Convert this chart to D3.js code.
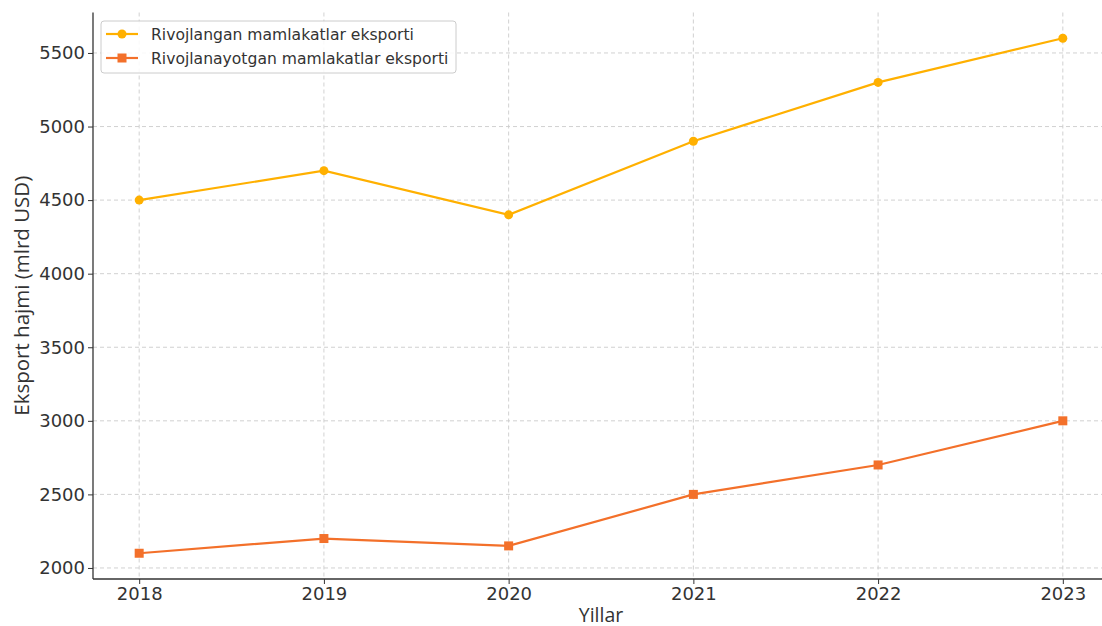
<!DOCTYPE html>
<html><head><meta charset="utf-8">
<script src="https://cdn.jsdelivr.net/npm/d3@7"></script>
<style>body{margin:0;background:#fff}svg{display:block}</style>
</head><body>
<svg id="c" width="1102" height="626"></svg>
<script>
const years = [2018, 2019, 2020, 2021, 2022, 2023];
const developed = [4500, 4700, 4400, 4900, 5300, 5600];
const developing = [2100, 2200, 2150, 2500, 2700, 3000];
const yTicks = [2000, 2500, 3000, 3500, 4000, 4500, 5000, 5500];
const seriesNames = ["Rivojlangan mamlakatlar eksporti", "Rivojlanayotgan mamlakatlar eksporti"];
const colors = ["#FFB000", "#F3702A"];

(function () {
const svg = d3.select("#c");
const pL = 93, pR = 1109, pT = 12.5, pB = 579;
const x = d3.scaleLinear().domain([2017.75, 2023.25]).range([pL, pR]);
const y = d3.scaleLinear().domain([1925, 5775]).range([pB, pT]);

// grid
const g = svg.append("g");
g.selectAll(".gx").data(years).enter().append("line")
  .attr("x1", d => x(d)).attr("x2", d => x(d)).attr("y1", pT).attr("y2", pB)
  .attr("stroke", "#cccccc").attr("stroke-width", 0.9).attr("stroke-dasharray", "4,3");
g.selectAll(".gy").data(yTicks).enter().append("line")
  .attr("x1", pL).attr("x2", pR).attr("y1", d => y(d)).attr("y2", d => y(d))
  .attr("stroke", "#cccccc").attr("stroke-width", 0.9).attr("stroke-dasharray", "4,3");

// axes
const xAxis = svg.append("g").attr("transform", `translate(0,${pB})`)
  .call(d3.axisBottom(x).tickValues(years).tickFormat(d3.format("d")).tickSize(5).tickPadding(3.5));
const yAxis = svg.append("g").attr("transform", `translate(${pL},0)`)
  .call(d3.axisLeft(y).tickValues(yTicks).tickFormat(d3.format("d")).tickSize(5).tickPadding(3));
[xAxis, yAxis].forEach(a => {
  a.select(".domain").attr("stroke", "#333").attr("stroke-width", 1.3);
  a.selectAll(".tick line").attr("stroke", "#333");
  a.selectAll("text").attr("fill", "#333").style("font-family", "DejaVu Sans").style("font-size", "18px");
});
xAxis.select(".domain").attr("d", `M${pL},0H${pR}`);
yAxis.select(".domain").attr("d", `M0,${pB}V${pT}`);

svg.append("text").attr("x", (pL + pR) / 2).attr("y", 622)
  .attr("text-anchor", "middle").attr("fill", "#333")
  .style("font-family", "Open Sans").style("font-size", "19.5px").text("Yillar");
svg.append("text").attr("transform", `translate(29,${(pT + pB) / 2}) rotate(-90)`)
  .attr("text-anchor", "middle").attr("fill", "#333")
  .style("font-family", "Open Sans").style("font-size", "20.5px").text("Eksport hajmi (mlrd USD)");

// lines
const line = d3.line().x((d, i) => x(years[i])).y(d => y(d));
[developed, developing].forEach((s, k) => {
  svg.append("path").datum(s).attr("d", line).attr("fill", "none")
    .attr("stroke", colors[k]).attr("stroke-width", 2.2);
  if (k === 0) {
    svg.selectAll(".m0").data(s).enter().append("circle")
      .attr("cx", (d, i) => x(years[i])).attr("cy", d => y(d)).attr("r", 4.5).attr("fill", colors[k]);
  } else {
    svg.selectAll(".m1").data(s).enter().append("rect")
      .attr("x", (d, i) => x(years[i]) - 4.5).attr("y", d => y(d) - 4.5)
      .attr("width", 9).attr("height", 9).attr("fill", colors[k]);
  }
});

// legend
const lg = svg.append("g");
lg.append("rect").attr("x", 101).attr("y", 21).attr("width", 355).attr("height", 52).attr("rx", 3)
  .attr("fill", "#fff").attr("fill-opacity", 0.85).attr("stroke", "#ccc").attr("stroke-width", 1);
seriesNames.forEach((n, k) => {
  const yy = 34 + k * 24;
  lg.append("line").attr("x1", 106).attr("x2", 138).attr("y1", yy).attr("y2", yy)
    .attr("stroke", colors[k]).attr("stroke-width", 2.2);
  if (k === 0) lg.append("circle").attr("cx", 122).attr("cy", yy).attr("r", 4.5).attr("fill", colors[k]);
  else lg.append("rect").attr("x", 117.5).attr("y", yy - 4.5).attr("width", 9).attr("height", 9).attr("fill", colors[k]);
  lg.append("text").attr("x", 151).attr("y", yy + 5.5).attr("fill", "#333")
    .style("font-family", "DejaVu Sans").style("font-size", "15.6px").text(n);
});
})();
</script>
</body></html>
